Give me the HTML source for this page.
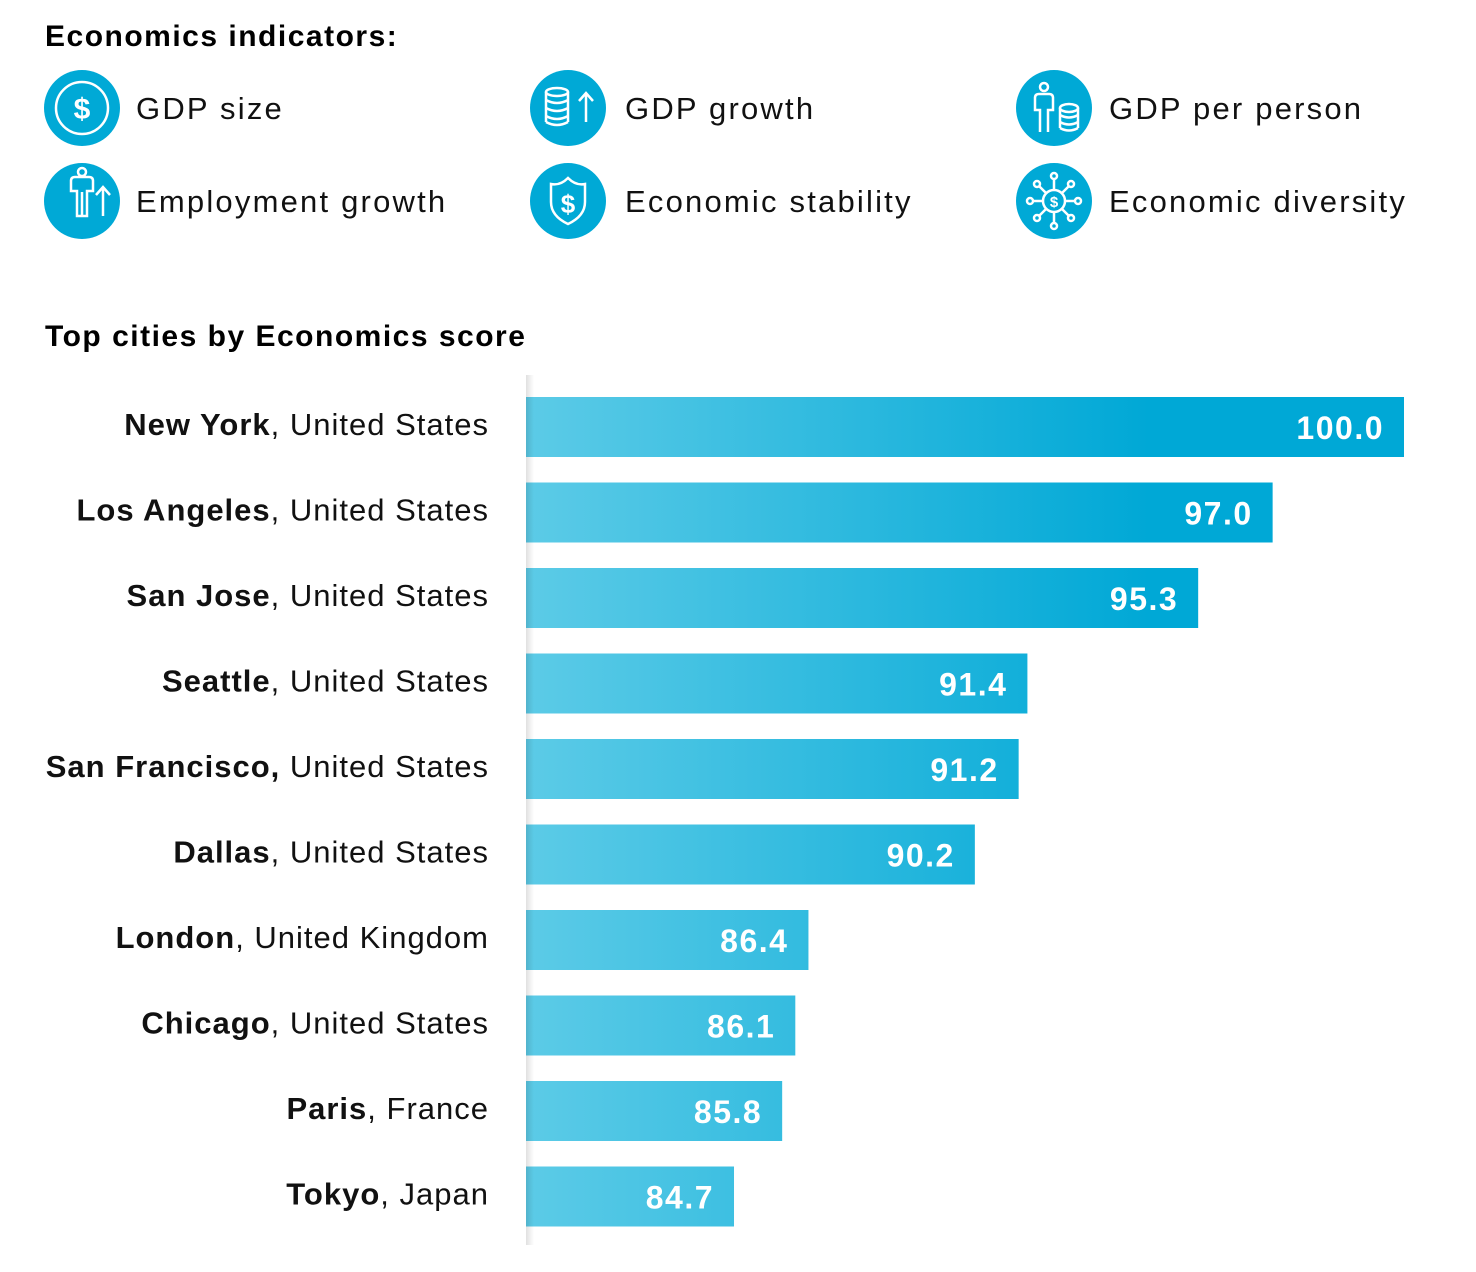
<!DOCTYPE html>
<html><head><meta charset="utf-8">
<style>
html,body{margin:0;padding:0;background:#fff;}
body{width:1476px;height:1272px;position:relative;overflow:hidden;font-family:"Liberation Sans",sans-serif;color:#000;}
.h{position:absolute;left:45px;font-weight:bold;font-size:30px;letter-spacing:1.5px;}
.ind{position:absolute;font-size:31px;color:#111;letter-spacing:2.2px;}
</style></head><body>
<div class="h" style="top:20px;">Economics indicators:</div>
<div class="h" style="top:320px;">Top cities by Economics score</div>
<svg id="icons" width="1476" height="260" style="position:absolute;left:0;top:0">
 <g fill="#00a9d6">
  <circle cx="82" cy="108" r="38"/><circle cx="568" cy="108" r="38"/><circle cx="1054" cy="108" r="38"/>
  <circle cx="82" cy="201" r="38"/><circle cx="568" cy="201" r="38"/><circle cx="1054" cy="201" r="38"/>
 </g>
 <g fill="none" stroke="#fff" stroke-width="2.5">
  <circle cx="82" cy="108" r="26"/>
  <ellipse cx="557" cy="92" rx="11" ry="4"/><path d="M546 92v30M568 92v30M546 100q11 6 22 0M546 108q11 6 22 0M546 116q11 6 22 0M546 122q11 6 22 0"/>
  <path d="M586 122v-28M579 101l7-8 7 8"/>
  <path d="M77 216v-25h-6v-10q0-4 4-4h14q4 0 4 4v10h-6v25zM82 192v24"/><circle cx="82" cy="172" r="4"/>
  <path d="M103 216v-28M96 195l7-8 7 8"/>
  <path d="M551 184q9 2 17-6q8 8 17 6v18q0 14-17 22q-17-8-17-22z"/>
  <path d="M1040 132v-22h-5v-12q0-4 4-4h10q4 0 4 4v12h-5v22"/><circle cx="1044" cy="87" r="4"/>
  <ellipse cx="1069" cy="108" rx="9" ry="4"/><path d="M1060 108v20M1078 108v20M1060 115q9 5 18 0M1060 122q9 5 18 0M1060 128q9 5 18 0"/>
  <circle cx="1054" cy="201" r="11"/>
  <path d="M1054 190v-10M1054 212v10M1043 201h-10M1065 201h10M1046 193l-7-7M1062 193l7-7M1046 209l-7 7M1062 209l7 7"/>
  <circle cx="1054" cy="176" r="3"/><circle cx="1054" cy="226" r="3"/><circle cx="1030" cy="201" r="3"/><circle cx="1078" cy="201" r="3"/>
  <circle cx="1037" cy="184" r="3"/><circle cx="1071" cy="184" r="3"/><circle cx="1037" cy="218" r="3"/><circle cx="1071" cy="218" r="3"/>
 </g>
 <g fill="#fff" font-family="Liberation Sans, sans-serif" font-weight="bold" text-anchor="middle">
  <text x="82" y="119" font-size="30">$</text><text x="568" y="213" font-size="26">$</text><text x="1054" y="207" font-size="15">$</text>
 </g>
</svg>
<div class="ind" style="left:136px;top:91px;">GDP size</div>
<div class="ind" style="left:625px;top:91px;">GDP growth</div>
<div class="ind" style="left:1109px;top:91px;">GDP per person</div>
<div class="ind" style="left:136px;top:184px;">Employment growth</div>
<div class="ind" style="left:625px;top:184px;">Economic stability</div>
<div class="ind" style="left:1109px;top:184px;">Economic diversity</div>

<svg id="chart" width="1476" height="1272" style="position:absolute;left:0;top:0">
 <defs>
  <linearGradient id="bg" gradientUnits="userSpaceOnUse" x1="526" y1="0" x2="1150" y2="0">
   <stop offset="0" stop-color="#5ccbe7"/><stop offset="1" stop-color="#00a8d6"/>
  </linearGradient>
  <linearGradient id="sh" x1="0" x2="1" y1="0" y2="0">
   <stop offset="0" stop-color="#000" stop-opacity="0.12"/><stop offset="1" stop-color="#000" stop-opacity="0"/>
  </linearGradient>
 </defs>
 <rect x="526" y="375" width="8" height="870" fill="url(#sh)"/>
 <g id="bars"></g>
</svg>
<script>
const cities = ["New York","Los Angeles","San Jose","Seattle","San Francisco,","Dallas","London","Chicago","Paris","Tokyo"];
const countries = ["United States","United States","United States","United States","United States","United States","United Kingdom","United States","France","Japan"];
const scores = [100.0,97.0,95.3,91.4,91.2,90.2,86.4,86.1,85.8,84.7];
const domainMin = 79.95, domainMax = 100;
const ns="http://www.w3.org/2000/svg";
const x0=526, x1=1404, top0=397, step=85.5, bh=60;
function xScale(v){return x0+(v-domainMin)/(domainMax-domainMin)*(x1-x0);}
function yScale(i){return top0+i*step;}
const g=document.getElementById('bars');
scores.forEach((v,i)=>{
  const y=yScale(i), xe=xScale(v);
  const r=document.createElementNS(ns,'rect');
  r.setAttribute('x',x0);r.setAttribute('y',y);r.setAttribute('width',xe-x0);r.setAttribute('height',bh);r.setAttribute('fill','url(#bg)');
  
  
  g.appendChild(r);
  const s=document.createElementNS(ns,'rect');
  s.setAttribute('x',x0);s.setAttribute('y',y);s.setAttribute('width',8);s.setAttribute('height',bh);s.setAttribute('fill','url(#sh)');
  
  
  g.appendChild(s);
  const t=document.createElementNS(ns,'text');
  t.setAttribute('x',xe-20);t.setAttribute('y',y+42);t.setAttribute('text-anchor','end');
  t.setAttribute('fill','#fff');t.setAttribute('font-size','32');t.setAttribute('font-weight','bold');
  t.setAttribute('font-family','Liberation Sans, sans-serif');t.setAttribute('letter-spacing','1.5');
  t.textContent=v.toFixed(1);
  
  
  g.appendChild(t);
  const l=document.createElementNS(ns,'text');
  l.setAttribute('x',489);l.setAttribute('y',y+38);l.setAttribute('text-anchor','end');
  l.setAttribute('font-size','31');l.setAttribute('font-family','Liberation Sans, sans-serif');l.setAttribute('fill','#111');
  l.setAttribute('letter-spacing','1.0');
  const b=document.createElementNS(ns,'tspan');b.setAttribute('font-weight','bold');
  const c=cities[i];
  b.textContent=c;
  l.appendChild(b);
  const rest=document.createElementNS(ns,'tspan');
  rest.textContent=(c.endsWith(',')?' ':', ')+countries[i];
  l.appendChild(rest);
  
  
  g.appendChild(l);
});
</script>
</body></html>
